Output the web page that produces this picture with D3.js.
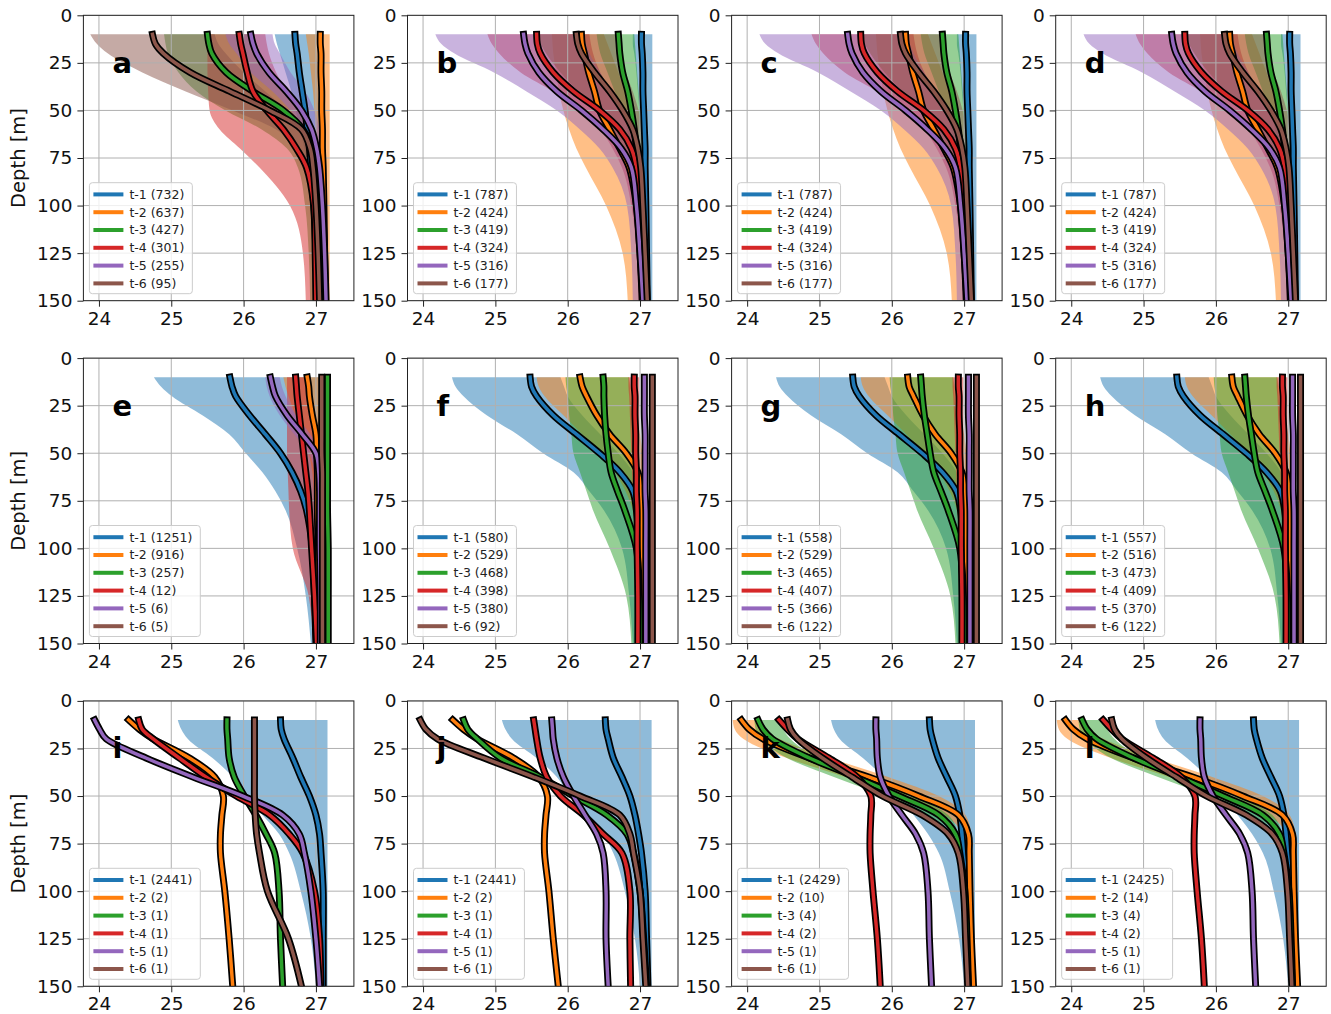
<!DOCTYPE html>
<html>
<head>
<meta charset="utf-8">
<style>
  body { margin: 0; background: #fff; }
  text { font-family: "DejaVu Sans", sans-serif; }
</style>
</head>
<body>
<svg id="fig" width="1331" height="1014"></svg>

<script src="https://d3js.org/d3.v7.min.js"></script>
<script>
// depth levels (m) shared by every profile
var depth = [10, 15, 20, 30, 40, 50, 60, 70, 80, 100, 125, 150];
var seriesNames = ["t-1", "t-2", "t-3", "t-4", "t-5", "t-6"];
var colors = ["#1f77b4", "#ff7f0e", "#2ca02c", "#d62728", "#9467bd", "#8c564b"];
var xTicks = [24, 25, 26, 27];
var yTicks = [0, 25, 50, 75, 100, 125, 150];
var letters = ["a", "b", "c", "d", "e", "f", "g", "h", "i", "j", "k", "l"];

// counts shown in the legends
var countsA = [732, 637, 427, 301, 255, 95];
var countsB = [787, 424, 419, 324, 316, 177];
var countsE = [1251, 916, 257, 12, 6, 5];
var countsF = [580, 529, 468, 398, 380, 92];
var countsG = [558, 529, 465, 407, 366, 122];
var countsH = [557, 516, 473, 409, 370, 122];
var countsI = [2441, 2, 1, 1, 1, 1];
var countsK = [2429, 10, 4, 2, 1, 1];
var countsL = [2425, 14, 4, 2, 1, 1];

// mean profiles and shaded envelopes (one row per series)
var meanA = [
  [26.71, 26.72, 26.74, 26.77, 26.81, 26.85, 26.88, 26.91, 26.93, 26.97, 27.0, 27.03],
  [27.06, 27.06, 27.07, 27.07, 27.08, 27.08, 27.09, 27.09, 27.1, 27.11, 27.12, 27.13],
  [25.5, 25.52, 25.56, 25.76, 26.13, 26.55, 26.82, 26.94, 26.98, 27.0, 27.02, 27.05],
  [25.94, 25.96, 25.99, 26.05, 26.13, 26.32, 26.55, 26.73, 26.87, 26.97, 26.99, 27.0],
  [26.1, 26.13, 26.18, 26.35, 26.59, 26.8, 26.94, 27.01, 27.05, 27.09, 27.12, 27.14],
  [24.74, 24.78, 24.89, 25.26, 25.81, 26.36, 26.8, 26.92, 26.96, 27.0, 27.03, 27.05]
];
var loA = [
  [26.43, 26.46, 26.5, 26.58, 26.66, 26.72, 26.78, 26.84, 26.88, 26.93, 26.96, 26.98],
  [26.86, 26.88, 26.9, 26.93, 26.96, 26.98, 27.0, 27.02, 27.04, 27.06, 27.07, 27.08],
  [24.9, 24.92, 24.95, 25.1, 25.35, 25.75, 26.25, 26.6, 26.75, 26.85, 26.9, 26.92],
  [25.5, 25.5, 25.5, 25.5, 25.51, 25.53, 25.67, 25.95, 26.22, 26.64, 26.82, 26.86],
  [25.75, 25.8, 25.9, 26.1, 26.4, 26.65, 26.85, 26.95, 27.0, 27.05, 27.08, 27.1],
  [23.88, 23.97, 24.12, 24.6, 25.2, 25.85, 26.45, 26.75, 26.88, 26.95, 26.98, 27.0]
];
var hiA = [
  [27.0, 27.0, 27.01, 27.02, 27.03, 27.04, 27.05, 27.06, 27.07, 27.08, 27.1, 27.1],
  [27.19, 27.19, 27.19, 27.19, 27.19, 27.19, 27.19, 27.19, 27.19, 27.19, 27.19, 27.19],
  [26.1, 26.12, 26.2, 26.35, 26.6, 26.85, 26.98, 27.02, 27.04, 27.05, 27.06, 27.07],
  [26.3, 26.32, 26.35, 26.45, 26.6, 26.8, 26.95, 27.0, 27.02, 27.03, 27.04, 27.05],
  [26.4, 26.43, 26.5, 26.65, 26.85, 26.98, 27.05, 27.1, 27.12, 27.14, 27.16, 27.17],
  [25.6, 25.65, 25.75, 26.0, 26.3, 26.6, 26.85, 26.98, 27.02, 27.04, 27.06, 27.07]
];

var meanB = [
  [27.02, 27.02, 27.03, 27.04, 27.04, 27.05, 27.06, 27.07, 27.07, 27.08, 27.09, 27.1],
  [26.19, 26.2, 26.23, 26.29, 26.37, 26.44, 26.58, 26.72, 26.85, 26.95, 27.0, 27.03],
  [26.7, 26.71, 26.72, 26.76, 26.83, 26.88, 26.92, 26.95, 26.97, 27.0, 27.03, 27.05],
  [25.57, 25.58, 25.62, 25.8, 26.08, 26.44, 26.72, 26.88, 26.95, 26.99, 27.02, 27.05],
  [25.39, 25.41, 25.45, 25.6, 25.85, 26.19, 26.49, 26.74, 26.88, 26.95, 27.0, 27.04],
  [26.12, 26.14, 26.19, 26.37, 26.58, 26.76, 26.9, 26.97, 27.01, 27.04, 27.07, 27.1]
];
var loB = [
  [26.9, 26.9, 26.92, 26.95, 26.97, 26.99, 27.0, 27.0, 27.01, 27.02, 27.03, 27.04],
  [25.78, 25.79, 25.8, 25.84, 25.88, 25.94, 26.02, 26.12, 26.25, 26.53, 26.76, 26.83],
  [26.4, 26.42, 26.45, 26.55, 26.65, 26.75, 26.82, 26.88, 26.92, 26.96, 26.98, 27.0],
  [24.89, 24.95, 25.05, 25.35, 25.8, 26.17, 26.45, 26.62, 26.75, 26.88, 26.95, 26.98],
  [24.17, 24.25, 24.43, 24.98, 25.43, 25.85, 26.17, 26.44, 26.62, 26.82, 26.88, 26.9],
  [25.6, 25.63, 25.7, 25.9, 26.15, 26.4, 26.6, 26.75, 26.85, 26.95, 27.0, 27.02]
];
var hiB = [
  [27.17, 27.17, 27.17, 27.17, 27.17, 27.17, 27.17, 27.17, 27.17, 27.17, 27.17, 27.17],
  [26.5, 26.55, 26.6, 26.7, 26.8, 26.88, 26.94, 26.98, 27.0, 27.02, 27.04, 27.05],
  [26.92, 26.93, 26.94, 26.96, 26.98, 27.0, 27.02, 27.04, 27.05, 27.06, 27.07, 27.08],
  [26.3, 26.32, 26.35, 26.45, 26.6, 26.75, 26.88, 26.95, 26.99, 27.02, 27.04, 27.06],
  [26.2, 26.25, 26.3, 26.45, 26.6, 26.75, 26.88, 26.95, 26.99, 27.02, 27.04, 27.05],
  [26.65, 26.68, 26.72, 26.8, 26.9, 26.98, 27.03, 27.06, 27.08, 27.1, 27.12, 27.14]
];

var meanE = [
  [25.81, 25.84, 25.89, 26.08, 26.3, 26.51, 26.67, 26.79, 26.87, 26.95, 26.98, 27.0],
  [26.88, 26.9, 26.91, 26.95, 27.0, 27.01, 27.02, 27.02, 27.02, 27.03, 27.03, 27.03],
  [27.16, 27.16, 27.16, 27.16, 27.16, 27.16, 27.16, 27.16, 27.16, 27.17, 27.17, 27.17],
  [26.72, 26.73, 26.74, 26.77, 26.8, 26.83, 26.86, 26.89, 26.91, 26.94, 26.98, 27.01],
  [26.37, 26.4, 26.44, 26.6, 26.81, 27.0, 27.04, 27.05, 27.05, 27.05, 27.06, 27.06],
  [27.08, 27.08, 27.08, 27.08, 27.08, 27.08, 27.09, 27.09, 27.09, 27.09, 27.09, 27.09]
];
var loE = [
  [24.76, 24.86, 25.01, 25.43, 25.8, 26.03, 26.26, 26.44, 26.58, 26.74, 26.86, 26.93],
  [26.55, 26.58, 26.62, 26.72, 26.82, 26.9, 26.95, 26.97, 26.98, 27.0, 27.0, 27.0],
  [27.13, 27.13, 27.13, 27.13, 27.13, 27.13, 27.13, 27.13, 27.13, 27.13, 27.13, 27.13],
  [26.6, 26.6, 26.6, 26.6, 26.6, 26.6, 26.61, 26.62, 26.63, 26.68, 26.9, 26.96],
  [26.3, 26.32, 26.36, 26.5, 26.7, 26.9, 26.98, 27.0, 27.02, 27.03, 27.04, 27.04],
  [27.05, 27.05, 27.05, 27.05, 27.05, 27.05, 27.05, 27.05, 27.05, 27.05, 27.05, 27.05]
];
var hiE = [
  [27.1, 27.1, 27.1, 27.1, 27.1, 27.1, 27.1, 27.1, 27.1, 27.1, 27.1, 27.1],
  [27.2, 27.2, 27.2, 27.2, 27.2, 27.2, 27.2, 27.2, 27.2, 27.2, 27.2, 27.2],
  [27.2, 27.2, 27.2, 27.2, 27.2, 27.2, 27.2, 27.2, 27.2, 27.2, 27.2, 27.2],
  [26.9, 26.92, 26.94, 26.98, 27.0, 27.02, 27.03, 27.04, 27.05, 27.05, 27.06, 27.07],
  [26.5, 26.53, 26.58, 26.72, 26.92, 27.05, 27.07, 27.08, 27.08, 27.08, 27.08, 27.08],
  [27.12, 27.12, 27.12, 27.12, 27.12, 27.12, 27.12, 27.12, 27.12, 27.12, 27.12, 27.12]
];

var meanF = [
  [25.48, 25.5, 25.57, 25.8, 26.12, 26.44, 26.72, 26.9, 26.95, 26.99, 27.01, 27.02],
  [26.17, 26.2, 26.26, 26.4, 26.58, 26.81, 26.97, 27.01, 27.02, 27.03, 27.04, 27.04],
  [26.49, 26.5, 26.5, 26.51, 26.53, 26.56, 26.6, 26.69, 26.79, 26.95, 26.99, 27.0],
  [26.92, 26.92, 26.93, 26.93, 26.94, 26.94, 26.95, 26.95, 26.96, 26.96, 26.97, 26.97],
  [27.06, 27.06, 27.06, 27.06, 27.07, 27.07, 27.07, 27.07, 27.08, 27.08, 27.08, 27.08],
  [27.17, 27.17, 27.17, 27.17, 27.17, 27.17, 27.17, 27.17, 27.17, 27.17, 27.17, 27.17]
];
var meanG = [
  [25.46, 25.48, 25.55, 25.78, 26.1, 26.42, 26.7, 26.89, 26.95, 26.99, 27.01, 27.02],
  [26.22, 26.24, 26.3, 26.43, 26.6, 26.82, 26.97, 27.01, 27.02, 27.03, 27.04, 27.04],
  [26.4, 26.41, 26.42, 26.45, 26.49, 26.53, 26.58, 26.68, 26.78, 26.94, 26.99, 27.0],
  [26.92, 26.92, 26.93, 26.93, 26.94, 26.94, 26.95, 26.95, 26.96, 26.96, 26.97, 26.97],
  [27.06, 27.06, 27.06, 27.06, 27.07, 27.07, 27.07, 27.07, 27.08, 27.08, 27.08, 27.08],
  [27.17, 27.17, 27.17, 27.17, 27.17, 27.17, 27.17, 27.17, 27.17, 27.17, 27.17, 27.17]
];
var loF = [
  [24.4, 24.45, 24.56, 24.88, 25.3, 25.66, 26.08, 26.3, 26.5, 26.75, 26.85, 26.9],
  [25.57, 25.6, 25.68, 25.94, 26.2, 26.45, 26.65, 26.8, 26.9, 26.97, 27.0, 27.0],
  [25.97, 25.98, 26.0, 26.02, 26.05, 26.08, 26.17, 26.26, 26.35, 26.58, 26.81, 26.88],
  [26.84, 26.84, 26.85, 26.86, 26.87, 26.88, 26.89, 26.9, 26.91, 26.92, 26.93, 26.94],
  [27.03, 27.03, 27.03, 27.03, 27.03, 27.03, 27.03, 27.03, 27.03, 27.03, 27.03, 27.03],
  [27.14, 27.14, 27.14, 27.14, 27.14, 27.14, 27.14, 27.14, 27.14, 27.14, 27.14, 27.14]
];
var hiF = [
  [25.9, 25.95, 26.0, 26.2, 26.45, 26.7, 26.9, 26.98, 27.0, 27.02, 27.04, 27.05],
  [26.85, 26.87, 26.9, 26.95, 27.0, 27.03, 27.05, 27.06, 27.06, 27.06, 27.07, 27.07],
  [26.85, 26.86, 26.87, 26.88, 26.9, 26.92, 26.94, 26.96, 26.97, 26.98, 27.0, 27.0],
  [26.99, 26.99, 26.99, 26.99, 26.99, 26.99, 26.99, 26.99, 27.0, 27.0, 27.0, 27.0],
  [27.1, 27.1, 27.1, 27.1, 27.1, 27.1, 27.1, 27.1, 27.1, 27.1, 27.1, 27.1],
  [27.2, 27.2, 27.2, 27.2, 27.2, 27.2, 27.2, 27.2, 27.2, 27.2, 27.2, 27.2]
];

var meanI = [
  [26.51, 26.52, 26.56, 26.68, 26.79, 26.91, 27.0, 27.05, 27.07, 27.1, 27.1, 27.1],
  [24.41, 24.56, 24.75, 25.25, 25.6, 25.72, 25.7, 25.68, 25.68, 25.74, 25.8, 25.85],
  [25.77, 25.77, 25.78, 25.8, 25.87, 26.01, 26.17, 26.31, 26.43, 26.49, 26.51, 26.54],
  [24.55, 24.6, 24.75, 25.11, 25.48, 25.9, 26.36, 26.63, 26.82, 26.98, 27.05, 27.07],
  [23.94, 24.01, 24.1, 24.65, 25.3, 25.99, 26.54, 26.77, 26.84, 26.93, 27.0, 27.05],
  [26.15, 26.15, 26.15, 26.15, 26.15, 26.15, 26.16, 26.18, 26.22, 26.33, 26.62, 26.8]
];
var loI = [
  [25.09, 25.14, 25.23, 25.57, 25.85, 26.03, 26.26, 26.49, 26.63, 26.79, 26.93, 27.0],
  null, null, null, null, null
];
var hiI = [
  [27.16, 27.16, 27.16, 27.16, 27.16, 27.16, 27.16, 27.16, 27.16, 27.16, 27.16, 27.16],
  null, null, null, null, null
];

var meanJ = [
  [26.52, 26.53, 26.56, 26.63, 26.75, 26.86, 26.93, 26.98, 27.02, 27.07, 27.09, 27.11],
  [24.41, 24.56, 24.75, 25.25, 25.6, 25.72, 25.7, 25.68, 25.68, 25.74, 25.8, 25.87],
  [24.56, 24.62, 24.75, 25.07, 25.62, 26.08, 26.54, 26.82, 26.91, 27.0, 27.05, 27.09],
  [25.53, 25.55, 25.57, 25.62, 25.71, 25.9, 26.22, 26.49, 26.75, 26.86, 26.86, 26.87],
  [25.78, 25.79, 25.8, 25.85, 25.94, 26.08, 26.24, 26.4, 26.49, 26.53, 26.53, 26.56],
  [23.96, 24.04, 24.2, 24.84, 25.53, 26.17, 26.72, 26.86, 26.91, 27.0, 27.04, 27.08]
];

var meanK = [
  [26.52, 26.53, 26.56, 26.64, 26.76, 26.88, 26.94, 26.97, 26.99, 27.04, 27.07, 27.1],
  [23.92, 24.03, 24.22, 24.86, 25.68, 26.37, 26.92, 27.06, 27.07, 27.08, 27.1, 27.13],
  [24.15, 24.22, 24.35, 24.86, 25.5, 26.1, 26.65, 26.88, 26.94, 27.01, 27.04, 27.06],
  [24.44, 24.56, 24.7, 25.13, 25.52, 25.71, 25.71, 25.7, 25.7, 25.74, 25.8, 25.84],
  [25.78, 25.78, 25.79, 25.8, 25.84, 25.96, 26.14, 26.33, 26.44, 26.5, 26.52, 26.55],
  [24.56, 24.6, 24.7, 25.04, 25.45, 25.87, 26.42, 26.78, 26.92, 26.99, 27.02, 27.05]
];
var loK = [
  [25.16, 25.2, 25.28, 25.6, 25.88, 26.08, 26.3, 26.5, 26.65, 26.8, 26.93, 27.0],
  [23.8, 23.83, 23.95, 24.55, 25.35, 26.05, 26.72, 26.97, 27.02, 27.05, 27.08, 27.1],
  [24.1, 24.12, 24.2, 24.55, 25.2, 25.9, 26.5, 26.85, 26.92, 27.0, 27.03, 27.05],
  null, null, null
];
var hiK = [
  [27.15, 27.15, 27.15, 27.15, 27.15, 27.15, 27.15, 27.15, 27.15, 27.15, 27.15, 27.15],
  [24.1, 24.2, 24.45, 25.15, 25.95, 26.65, 27.02, 27.1, 27.12, 27.13, 27.14, 27.15],
  [24.45, 24.5, 24.6, 25.0, 25.7, 26.3, 26.78, 26.92, 26.97, 27.03, 27.06, 27.07],
  null, null, null
];

var panelCounts = [countsA, countsB, countsB, countsB, countsE, countsF, countsG, countsH, countsI, countsI, countsK, countsL];
var panelMeans = [meanA, meanB, meanB, meanB, meanE, meanF, meanG, meanG, meanI, meanJ, meanK, meanK];
var panelLo = [loA, loB, loB, loB, loE, loF, loF, loF, loI, loI, loK, loK];
var panelHi = [hiA, hiB, hiB, hiB, hiE, hiF, hiF, hiF, hiI, hiI, hiK, hiK];

// layout
var W = 270.5, H = 285.4;
var colLeft = [83.4, 407.5, 731.6, 1055.7];
var rowTop = [15.3, 358.1, 700.9];

var svg = d3.select("#fig");

var x = d3.scaleLinear().domain([23.785, 27.525]).range([0, W]);
var y = d3.scaleLinear().domain([0, 150]).range([0, H]);

letters.forEach(function (letter, k) {
  var col = k % 4, row = Math.floor(k / 4);
  var g = svg.append("g")
    .attr("transform", "translate(" + colLeft[col] + "," + rowTop[row] + ")");

  var clipId = "clip" + k;
  g.append("clipPath").attr("id", clipId)
    .append("rect").attr("width", W).attr("height", H);

  var plot = g.append("g").attr("clip-path", "url(#" + clipId + ")");
  var means = panelMeans[k], lo = panelLo[k], hi = panelHi[k];

  // shaded envelopes
  var area = d3.area()
    .y(function (d, i) { return y(depth[i]); })
    .curve(d3.curveMonotoneY);
  lo.forEach(function (l, s) {
    if (!l) return;
    plot.append("path")
      .attr("d", area.x0(function (d, i) { return x(l[i]); })
                     .x1(function (d, i) { return x(hi[s][i]); })(depth))
      .attr("fill", colors[s])
      .attr("fill-opacity", 0.5)
      .attr("stroke", "none");
  });

  // grid
  plot.selectAll(".gx").data(xTicks).enter().append("line")
    .attr("x1", function (d) { return x(d); }).attr("x2", function (d) { return x(d); })
    .attr("y1", 0).attr("y2", H)
    .attr("stroke", "#b0b0b0").attr("stroke-width", 1);
  plot.selectAll(".gy").data(yTicks).enter().append("line")
    .attr("y1", function (d) { return y(d); }).attr("y2", function (d) { return y(d); })
    .attr("x1", 0).attr("x2", W)
    .attr("stroke", "#b0b0b0").attr("stroke-width", 1);

  // profiles: black outline under a coloured line
  means.forEach(function (m, s) {
    var line = d3.line()
      .x(function (d, i) { return x(m[i]); })
      .y(function (d) { return y(d); })
      .curve(d3.curveCatmullRom.alpha(0.5));
    plot.append("path").attr("d", line(depth))
      .attr("fill", "none").attr("stroke", "#000")
      .attr("stroke-width", 7).attr("stroke-linecap", "square");
    plot.append("path").attr("d", line(depth))
      .attr("fill", "none").attr("stroke", colors[s])
      .attr("stroke-width", 3.5).attr("stroke-linecap", "square");
  });

  // panel letter
  g.append("text")
    .attr("x", 29).attr("y", 57.5)
    .attr("font-size", "29px").attr("font-weight", "bold")
    .text(letter);

  // legend
  var leg = g.append("g").attr("transform", "translate(6," + (H - 7 - 111) + ")");
  var box = leg.append("rect")
    .attr("height", 111).attr("rx", 3)
    .attr("fill", "#fff").attr("fill-opacity", 0.8)
    .attr("stroke", "#cccccc");
  var maxW = 0;
  seriesNames.forEach(function (name, s) {
    var cy = 11.7 + s * 17.8;
    leg.append("line")
      .attr("x1", 4).attr("x2", 34).attr("y1", cy).attr("y2", cy)
      .attr("stroke", colors[s]).attr("stroke-width", 4);
    var t = leg.append("text")
      .attr("x", 40).attr("y", cy).attr("dy", "0.35em")
      .attr("font-size", "12.5px").attr("fill", "#222")
      .text(name + " (" + panelCounts[k][s] + ")");
    maxW = Math.max(maxW, t.node().getComputedTextLength());
  });
  box.attr("width", 40 + maxW + 8);

  // axes
  var ax = g.append("g").attr("transform", "translate(0," + H + ")")
    .call(d3.axisBottom(x).tickValues(xTicks).tickSize(6).tickPadding(5).tickFormat(d3.format("d")));
  var ay = g.append("g")
    .call(d3.axisLeft(y).tickValues(yTicks).tickSize(6).tickPadding(5).tickFormat(d3.format("d")));
  [ax, ay].forEach(function (a) {
    a.select(".domain").remove();
    a.selectAll("text").attr("font-size", "18.5px").attr("fill", "#111")
      .style("font-family", "DejaVu Sans, sans-serif");
    a.selectAll("line").attr("stroke", "#222");
  });

  // frame
  g.append("rect").attr("width", W).attr("height", H)
    .attr("fill", "none").attr("stroke", "#222").attr("stroke-width", 1);

  if (col === 0) {
    g.append("text")
      .attr("transform", "translate(" + (18 - colLeft[0]) + "," + (H / 2) + ") rotate(-90)")
      .attr("text-anchor", "middle").attr("dy", "0.35em")
      .attr("font-size", "19.5px").attr("fill", "#111")
      .text("Depth [m]");
  }
});
</script>
</body>
</html>
